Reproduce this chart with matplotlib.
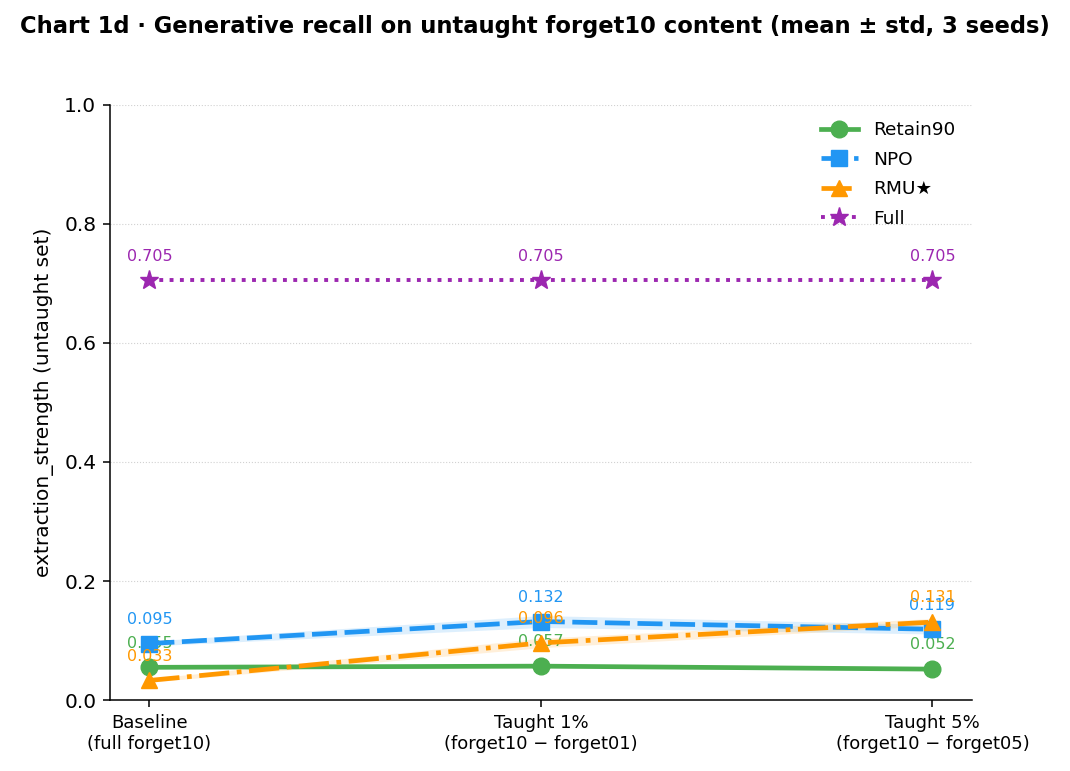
import numpy as np
import matplotlib
matplotlib.use('Agg')
import matplotlib.pyplot as plt

# conditions on the x axis
conditions = ['Baseline\n(full forget10)',
              'Taught 1%\n(forget10 \u2212 forget01)',
              'Taught 5%\n(forget10 \u2212 forget05)']

# mean extraction strength per method
retain90 = [0.055, 0.057, 0.052]
npo = [0.095, 0.132, 0.119]
rmu = [0.033, 0.096, 0.131]
full = [0.705, 0.705, 0.705]

# std across seeds (estimated from the faint bands)
retain90_std = [0.002, 0.003, 0.002]
npo_std = [0.004, 0.010, 0.008]
rmu_std = [0.003, 0.008, 0.006]
full_std = [0.0, 0.0, 0.0]

series = [
    ('Retain90', retain90, retain90_std, '#4CAF50', '-', 'o'),
    ('NPO', npo, npo_std, '#2196F3', (0, (5.3, 1.6)), 's'),
    ('RMU\u2605', rmu, rmu_std, '#FF9800', '-.', '^'),
    ('Full', full, full_std, '#9C27B0', ':', '*'),
]

x = np.arange(len(conditions))

fig, ax = plt.subplots(figsize=(10.7, 7.71), dpi=100)

for name, vals, std, color, ls, mk in series:
    vals = np.array(vals)
    std = np.array(std)
    lw = 2.8 if name == 'Full' else 3.4
    ax.plot(x, vals, color=color, linestyle=ls, marker=mk, markersize=12 if mk != '*' else 14,
            linewidth=lw, label=name, zorder=3)
    ax.fill_between(x, vals - std, vals + std, color=color, alpha=0.15, linewidth=0)
    for xi, v in zip(x, vals):
        ax.annotate(f'{v:.3f}', (xi, v), xytext=(0, 12), textcoords='offset points',
                    ha='center', va='bottom', fontsize=11.5, color=color)

ax.set_xticks(x)
ax.set_xticklabels(conditions, fontsize=13)
ax.set_ylim(0, 1.0)
ax.tick_params(axis='both', length=5, width=1.1, pad=5)
ax.tick_params(axis='y', labelsize=14.5)
ax.set_ylabel('extraction_strength (untaught set)', fontsize=14.5, labelpad=7)
ax.grid(axis='y', linestyle=':', color='#cccccc', alpha=0.9)
ax.spines['top'].set_visible(False)
ax.spines['right'].set_visible(False)
ax.spines['left'].set_linewidth(1.1)
ax.spines['bottom'].set_linewidth(1.1)
ax.legend(frameon=False, loc='upper right', fontsize=13.3, labelspacing=0.62)

fig.suptitle('Chart 1d \u00b7 Generative recall on untaught forget10 content (mean \u00b1 std, 3 seeds)',
             fontsize=16.3, fontweight='bold', x=0.5, y=0.98)
fig.subplots_adjust(left=0.103, right=0.908, top=0.864, bottom=0.092)
fig.savefig('out.png')
